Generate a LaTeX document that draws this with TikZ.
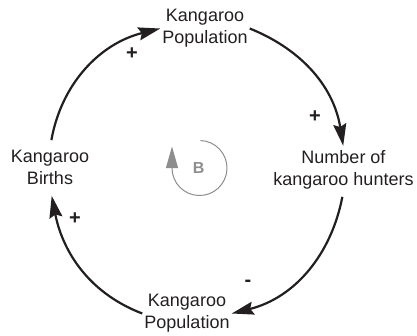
\documentclass[tikz,border=0pt]{standalone}
\usepackage{fontspec}
\setmainfont{Liberation Sans}
\usetikzlibrary{arrows.meta}
\definecolor{ink}{HTML}{231F20}
\definecolor{loopgray}{HTML}{8E8E8E}
\begin{document}
\begin{tikzpicture}[x=1pt,y=1pt,
  var/.style={align=center, inner sep=2pt, text=ink,
    font=\fontsize{18}{22}\selectfont},
  link/.style={draw=ink, line width=2.2pt,
    -{Stealth[length=22pt,width=13pt,inset=3pt]}},
  sign/.style={text=ink, inner sep=0pt,
    font=\bfseries\fontsize{20}{20}\selectfont},
  loopline/.style={draw=loopgray, line width=1pt,
    -{Triangle[length=21.5pt,width=12pt]}}]
\useasboundingbox (0,0) rectangle (417,-335);

% variables of the loop
\node[var] (pop1)   at (205,-28.5)   {Kangaroo\\Population};
\node[var] (hunt)   at (343.5,-169.4){Number of\\kangaroo hunters};
\node[var] (pop2)   at (187,-313.5)  {Kangaroo\\Population};
\node[var] (births) at (50,-167.5)   {Kangaroo\\Births};

% causal links
\draw[link, shorten <=8pt] (births.north) to[out=80, in=194] (pop1.west);
\draw[link, shorten >=2pt] (pop1.east) to[out=-22, in=99] (hunt.north);
\draw[link, shorten <=6pt] (hunt.south) to[out=259, in=14] (pop2.east);
\draw[link, shorten >=9pt] (pop2.west) to[out=159, in=281] (births.south);

% link polarities
\node[sign] (s1) at (132,-54)   {+};
\node[sign] (s2) at (315,-117)  {+};
\node[sign] (s3) at (248,-283)  {-};
\node[sign] (s4) at (75,-218.5) {+};

% balancing loop marker
\node[text=loopgray, font=\bfseries\fontsize{16}{16}\selectfont, inner sep=0pt]
  (loopB) at (198.7,-167.5) {B};
\draw[loopline] (199.5,-168) ++(88:27.5)
  arc[start angle=88, end angle=-180, radius=27.5] -- ++(0,21.5);
\end{tikzpicture}
\end{document}
